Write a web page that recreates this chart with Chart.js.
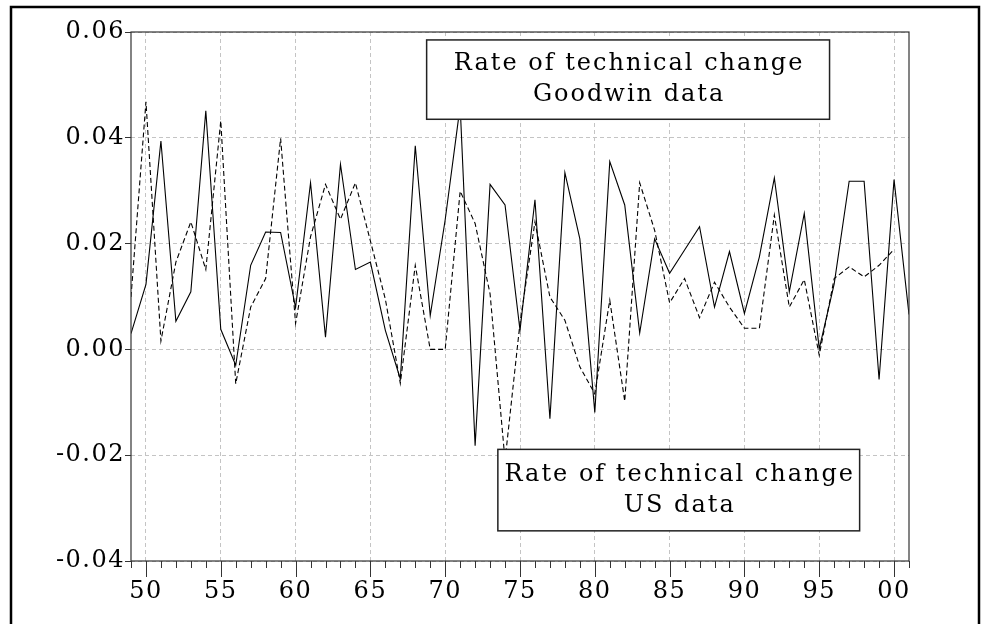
<!DOCTYPE html>
<html>
<head>
<meta charset="utf-8">
<script src="https://cdn.jsdelivr.net/npm/chart.js@4"></script>
<style>
  body { margin: 0; background: #fff; }
  #wrap { width: 989px; height: 624px; }
</style>
</head>
<body>
<div id="wrap"><canvas id="rtc" width="989" height="624"></canvas></div>
<script>
// years 1949 - 2001
var years = [1949, 1950, 1951, 1952, 1953, 1954, 1955, 1956, 1957, 1958,
  1959, 1960, 1961, 1962, 1963, 1964, 1965, 1966, 1967, 1968,
  1969, 1970, 1971, 1972, 1973, 1974, 1975, 1976, 1977, 1978,
  1979, 1980, 1981, 1982, 1983, 1984, 1985, 1986, 1987, 1988,
  1989, 1990, 1991, 1992, 1993, 1994, 1995, 1996, 1997, 1998,
  1999, 2000, 2001];

// solid line - Goodwin data
var goodwin = [0.0030, 0.0123, 0.0394, 0.0053, 0.0109, 0.0451, 0.0038, -0.0030, 0.0159, 0.0222,
  0.0221, 0.0079, 0.0315, 0.0023, 0.0350, 0.0151, 0.0165, 0.0036, -0.0056, 0.0385,
  0.0064, 0.0245, 0.0460, -0.0182, 0.0312, 0.0273, 0.0036, 0.0283, -0.0131, 0.0334,
  0.0209, -0.0119, 0.0355, 0.0273, 0.0031, 0.0209, 0.0144, 0.0188, 0.0232, 0.0080,
  0.0185, 0.0068, 0.0175, 0.0324, 0.0109, 0.0257, 0.0001, 0.0124, 0.0318, 0.0318,
  -0.0057, 0.0321, 0.0066];

// dashed line - US data
var usdata = [0.0099, 0.0468, 0.0016, 0.0165, 0.0241, 0.0151, 0.0432, -0.0065, 0.0080, 0.0134,
  0.0399, 0.0049, 0.0213, 0.0312, 0.0246, 0.0315, 0.0205, 0.0095, -0.0064, 0.0159,
  0.0000, 0.0000, 0.0299, 0.0238, 0.0105, -0.0210, 0.0050, 0.0241, 0.0099, 0.0055,
  -0.0033, -0.0084, 0.0093, -0.0098, 0.0315, 0.0225, 0.0088, 0.0134, 0.0060, 0.0127,
  0.0080, 0.0040, 0.0040, 0.0254, 0.0080, 0.0132, -0.0011, 0.0134, 0.0156, 0.0137,
  0.0159, 0.0189, null];

var yTicks = [-0.04, -0.02, 0.00, 0.02, 0.04, 0.06];
var xLabelYears = [1950, 1955, 1960, 1965, 1970, 1975, 1980, 1985, 1990, 1995, 2000];

var boxLines = [
  ["Rate of technical change", "Goodwin data"],
  ["Rate of technical change", "US data"]
];

var toPoints = function(vals) {
  return years.map(function(y, i) { return { x: y, y: vals[i] }; });
};

var FONT = "'DejaVu Serif', serif";
var GRID = "#c4c4c4";
var AXIS = "#333";

// slightly wider tick labels, like the original
var spacingPlugin = {
  id: 'spacing',
  beforeDraw: function(chart) {
    if ('letterSpacing' in chart.ctx) chart.ctx.letterSpacing = "1.5px";
  }
};

// year ticks below the axis, longer every 5 years
var tickPlugin = {
  id: 'yearticks',
  afterDraw: function(chart) {
    var ctx = chart.ctx, xs = chart.scales.x, bottom = chart.chartArea.bottom;
    ctx.save();
    ctx.strokeStyle = AXIS;
    ctx.lineWidth = 1;
    years.forEach(function(y) {
      var px = Math.round(xs.getPixelForValue(y)) + 0.5;
      var len = (y % 5 === 0) ? 16 : 7;
      ctx.beginPath();
      ctx.moveTo(px, bottom);
      ctx.lineTo(px, bottom + len);
      ctx.stroke();
    });
    ctx.restore();
  }
};

// text boxes, plot frame and outer frame
var boxPlugin = {
  id: 'boxes',
  afterDatasetsDraw: function(chart) {
    var ctx = chart.ctx, xs = chart.scales.x, ys = chart.scales.y;
    var rects = [
      [1968.76, 1995.69, 0.0585, 0.0435],
      [1973.52, 1997.70, -0.0189, -0.0343]
    ];
    ctx.save();
    rects.forEach(function(r, i) {
      var x1 = xs.getPixelForValue(r[0]), x2 = xs.getPixelForValue(r[1]);
      var y1 = ys.getPixelForValue(r[2]), y2 = ys.getPixelForValue(r[3]);
      ctx.fillStyle = "#fff";
      ctx.fillRect(x1, y1, x2 - x1, y2 - y1);
      ctx.strokeStyle = "#222";
      ctx.lineWidth = 1.5;
      ctx.strokeRect(x1, y1, x2 - x1, y2 - y1);
      ctx.fillStyle = "#000";
      ctx.font = "24px " + FONT;
      if ('letterSpacing' in ctx) ctx.letterSpacing = "2px";
      ctx.textAlign = "center";
      ctx.textBaseline = "middle";
      var cx = (x1 + x2) / 2 + 1, cy = (y1 + y2) / 2;
      ctx.fillText(boxLines[i][0], cx, cy - 15.5);
      ctx.fillText(boxLines[i][1], cx, cy + 15.5);
    });
    ctx.restore();
  },
  afterDraw: function(chart) {
    var ctx = chart.ctx, a = chart.chartArea;
    ctx.save();
    ctx.strokeStyle = AXIS;
    ctx.lineWidth = 1.2;
    ctx.strokeRect(a.left, a.top, a.right - a.left, a.bottom - a.top);
    ctx.strokeStyle = "#000";
    ctx.lineWidth = 2.5;
    ctx.beginPath();
    ctx.moveTo(11, 640);
    ctx.lineTo(11, 7);
    ctx.lineTo(979, 7);
    ctx.lineTo(979, 640);
    ctx.stroke();
    ctx.restore();
  }
};

var ctx = document.getElementById("rtc").getContext("2d");
var rtcChart = new Chart(ctx, {
  type: 'line',
  data: {
    datasets: [
      {
        label: "Goodwin data",
        data: toPoints(goodwin),
        borderColor: "#000",
        borderWidth: 1.1,
        pointRadius: 0,
        tension: 0,
        fill: false
      },
      {
        label: "US data",
        data: toPoints(usdata),
        borderColor: "#000",
        borderWidth: 1.1,
        borderDash: [5, 3],
        pointRadius: 0,
        tension: 0,
        fill: false,
        spanGaps: false
      }
    ]
  },
  options: {
    responsive: false,
    animation: false,
    layout: { padding: { left: 0, top: 32, right: 80, bottom: 0 } },
    plugins: { legend: { display: false }, tooltip: { enabled: false } },
    scales: {
      x: {
        type: 'linear',
        min: 1949,
        max: 2001,
        afterBuildTicks: function(scale) {
          scale.ticks = xLabelYears.map(function(v) { return { value: v }; });
        },
        afterFit: function(scale) { scale.height = 63; },
        ticks: {
          autoSkip: false,
          maxRotation: 0,
          padding: 16,
          color: "#000",
          font: { family: FONT, size: 24 },
          callback: function(v) { return String(v % 100).padStart(2, "0"); }
        },
        grid: {
          drawTicks: false,
          color: GRID,
          lineWidth: 1
        },
        border: { display: true, color: AXIS, dash: [4, 3], width: 0 }
      },
      y: {
        min: -0.04,
        max: 0.06,
        afterBuildTicks: function(scale) {
          scale.ticks = yTicks.map(function(v) { return { value: v }; });
        },
        afterFit: function(scale) { scale.width = 131; },
        ticks: {
          padding: 0,
          color: "#000",
          font: { family: FONT, size: 24 },
          callback: function(v) { return v.toFixed(2); }
        },
        grid: {
          color: GRID,
          lineWidth: 1,
          tickLength: 6,
          tickColor: AXIS,
          tickBorderDash: []
        },
        border: { display: true, color: AXIS, dash: [4, 3], width: 0 }
      }
    }
  },
  plugins: [spacingPlugin, tickPlugin, boxPlugin]
});
</script>
</body>
</html>
